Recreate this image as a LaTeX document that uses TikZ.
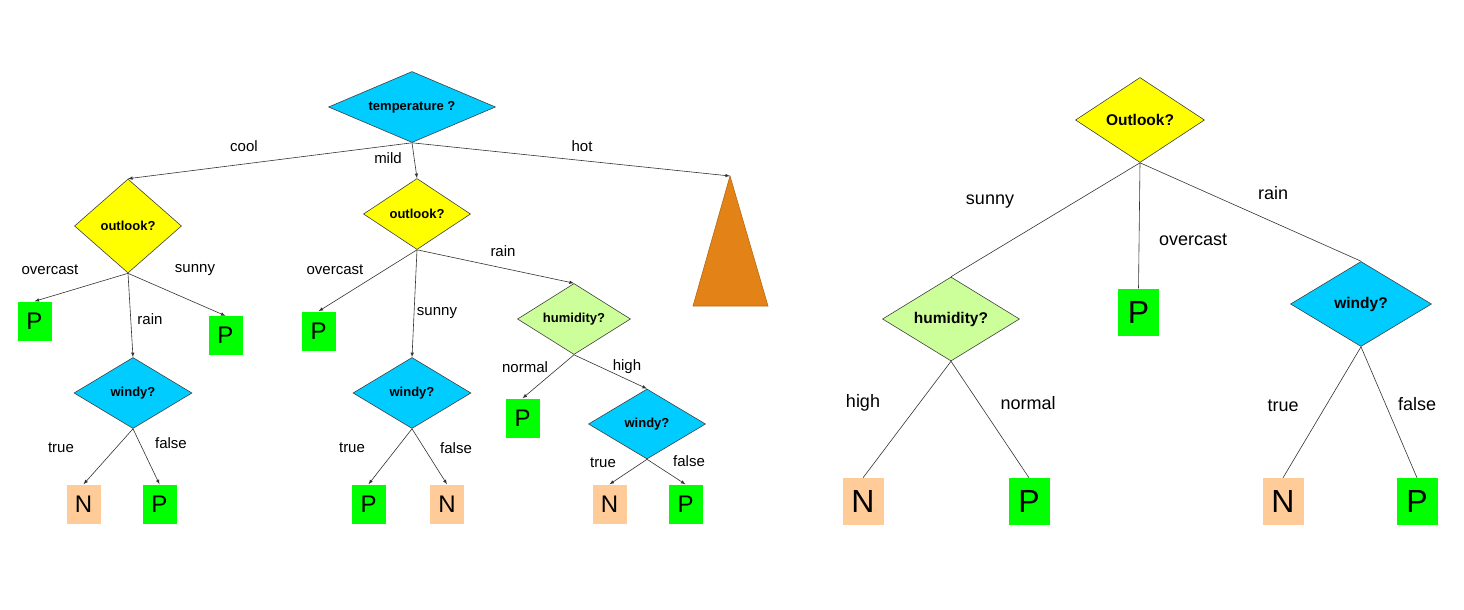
\documentclass[tikz,border=0pt]{standalone}
\usepackage{fontspec}
\setmainfont{Liberation Sans}
\usepackage{tikz}
\usetikzlibrary{arrows,%
                shapes,positioning}
\definecolor{skyblue}{RGB}{0,204,255}
\definecolor{lemon}{RGB}{255,255,0}
\definecolor{palegreen}{RGB}{204,255,153}
\definecolor{leafgreen}{RGB}{0,255,0}
\definecolor{peach}{RGB}{255,204,153}
\definecolor{rust}{RGB}{227,131,23}
\tikzstyle{test}=[diamond,shape aspect=2,draw=black!75,line width=0.6pt,inner sep=0pt,font=\bfseries\fontsize{13}{13}\selectfont]
\tikzstyle{bigtest}=[test,font=\bfseries\fontsize{15.5}{15.5}\selectfont]
\tikzstyle{leaf}=[inner sep=0pt,minimum width=34pt,minimum height=39pt,font=\fontsize{24}{24}\selectfont]
\tikzstyle{bigleaf}=[leaf,minimum width=41pt,minimum height=47pt,font=\fontsize{32}{32}\selectfont]
\tikzstyle{lbl}=[inner sep=0pt,font=\fontsize{15}{15}\selectfont]
\tikzstyle{biglbl}=[lbl,font=\fontsize{18}{18}\selectfont]
\tikzstyle{arrowline}=[->,draw=black!80,line width=0.6pt]
\tikzstyle{plainline}=[draw=black!80,line width=0.6pt]

\begin{document}
\begin{tikzpicture}[>=latex,x=1pt,y=-1pt]
	  \fill[white] (0,0) rectangle (1464,610);
	  \useasboundingbox (0,0) rectangle (1464,610);
	  % left tree
	  \node (temp) at (412,107) [test,fill=skyblue,minimum width=167pt,minimum height=71pt] {temperature ?};
	  \node (outA) at (128,226) [test,fill=lemon,minimum width=107pt,minimum height=94pt] {outlook?};
	  \node (outB) at (417,214) [test,fill=lemon,minimum width=107pt,minimum height=71pt] {outlook?};
	  \coordinate (hot) at (730,176);
	  \filldraw[fill=rust,draw=rust!80!black,line width=0.6pt] (hot) -- (768,306) -- (693,306) -- cycle;
	  \node (pA1) at (34.5,321) [leaf,fill=leafgreen] {P};
	  \node (pA2) at (225.5,335.5) [leaf,fill=leafgreen] {P};
	  \node (windA) at (133,393) [test,fill=skyblue,minimum width=118pt,minimum height=71pt] {windy?};
	  \node (nA) at (83.5,504) [leaf,fill=peach] {N};
	  \node (pA3) at (159.5,504) [leaf,fill=leafgreen] {P};
	  \node (pB1) at (318.5,331) [leaf,fill=leafgreen] {P};
	  \node (windB) at (412,393) [test,fill=skyblue,minimum width=118pt,minimum height=71pt] {windy?};
	  \node (pB2) at (368.5,504) [leaf,fill=leafgreen] {P};
	  \node (nB) at (447,504) [leaf,fill=peach] {N};
	  \node (humB) at (574,319) [test,fill=palegreen,minimum width=113pt,minimum height=71pt] {humidity?};
	  \node (pB3) at (522.5,418) [leaf,fill=leafgreen] {P};
	  \node (windC) at (647,424) [test,fill=skyblue,minimum width=117pt,minimum height=70pt] {windy?};
	  \node (nC) at (609.5,504) [leaf,fill=peach] {N};
	  \node (pC) at (685.5,504) [leaf,fill=leafgreen] {P};
	  \draw [arrowline] (temp.south) -- (outA.north);
	  \draw [arrowline] (temp.south) -- (outB.north);
	  \draw [arrowline] (temp.south) -- (hot);
	  \draw [arrowline] (outA.south) -- (pA1.north);
	  \draw [arrowline] (outA.south) -- (windA.north);
	  \draw [arrowline] (outA.south) -- (pA2.north);
	  \draw [arrowline] (windA.south) -- (nA.north);
	  \draw [arrowline] (windA.south) -- (pA3.north);
	  \draw [arrowline] (outB.south) -- (pB1.north);
	  \draw [arrowline] (outB.south) -- (windB.north);
	  \draw [arrowline] (outB.south) -- (humB.north);
	  \draw [arrowline] (windB.south) -- (pB2.north);
	  \draw [arrowline] (windB.south) -- (nB.north);
	  \draw [arrowline] (humB.south) -- (pB3.north);
	  \draw [arrowline] (humB.south) -- (windC.north);
	  \draw [arrowline] (windC.south) -- (nC.north);
	  \draw [arrowline] (windC.south) -- (pC.north);
	  \node (lcool) at (244,146) [lbl] {cool};
	  \node (lmild) at (388,158) [lbl] {mild};
	  \node (lhot) at (582,146) [lbl] {hot};
	  \node (lovcA) at (50,270) [lbl] {overcast};
	  \node (lsunA) at (195,270) [lbl] {sunny};
	  \node (lrainA) at (150,319) [lbl] {rain};
	  \node (ltrueA) at (61,448) [lbl] {true};
	  \node (lfalseA) at (171,443) [lbl] {false};
	  \node (lovcB) at (335,270) [lbl] {overcast};
	  \node (lsunB) at (437,313) [lbl] {sunny};
	  \node (lrainB) at (503,251) [lbl] {rain};
	  \node (ltrueB) at (352,448) [lbl] {true};
	  \node (lfalseB) at (456,448) [lbl] {false};
	  \node (lnormB) at (525,367) [lbl] {normal};
	  \node (lhighB) at (627,367) [lbl] {high};
	  \node (ltrueC) at (603,463) [lbl] {true};
	  \node (lfalseC) at (689,461) [lbl] {false};
	  % right tree
	  \node (outR) at (1140,120) [bigtest,fill=lemon,minimum width=129pt,minimum height=85pt] {Outlook?};
	  \node (humR) at (951,319) [bigtest,fill=palegreen,minimum width=137pt,minimum height=84pt] {humidity?};
	  \node (pR1) at (1138.5,312) [bigleaf,fill=leafgreen] {P};
	  \node (windR) at (1361,304) [bigtest,fill=skyblue,minimum width=141pt,minimum height=85pt] {windy?};
	  \node (nR1) at (863,501.5) [bigleaf,fill=peach] {N};
	  \node (pR2) at (1029,501.5) [bigleaf,fill=leafgreen] {P};
	  \node (nR2) at (1283,501.5) [bigleaf,fill=peach] {N};
	  \node (pR3) at (1417,501.5) [bigleaf,fill=leafgreen] {P};
	  \draw [plainline] (outR.south) -- (humR.north);
	  \draw [plainline] (outR.south) -- (pR1.north);
	  \draw [plainline] (outR.south) -- (windR.north);
	  \draw [plainline] (humR.south) -- (nR1.north);
	  \draw [plainline] (humR.south) -- (pR2.north);
	  \draw [plainline] (windR.south) -- (nR2.north);
	  \draw [plainline] (windR.south) -- (pR3.north);
	  \node (lsunR) at (990,202) [biglbl] {sunny};
	  \node (lovcR) at (1193,240) [biglbl] {overcast};
	  \node (lrainR) at (1273,193) [biglbl] {rain};
	  \node (lhighR) at (863,403) [biglbl] {high};
	  \node (lnormR) at (1028,403) [biglbl] {normal};
	  \node (ltrueR) at (1283,406) [biglbl] {true};
	  \node (lfalseR) at (1417,404) [biglbl] {false};
    %
    \end{tikzpicture}
\end{document}
